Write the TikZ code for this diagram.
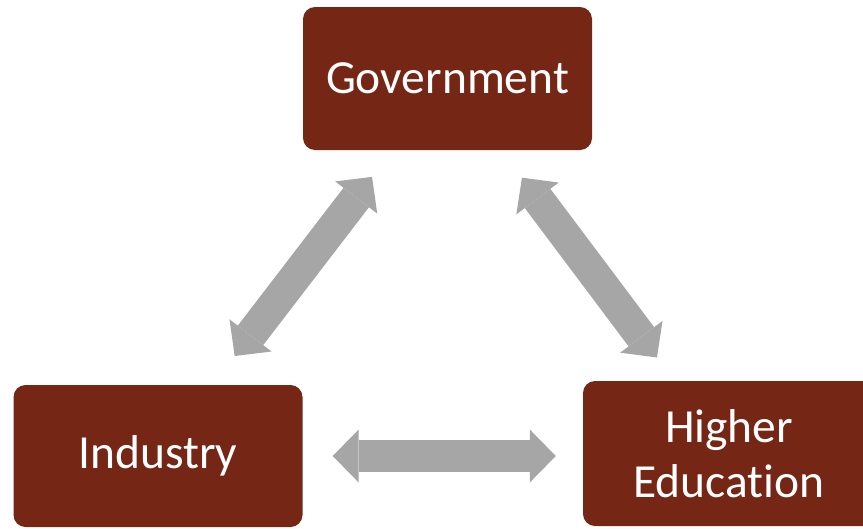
\documentclass[tikz,border=0pt]{standalone}
\usepackage{fontspec}
\setmainfont[Ligatures=NoCommon]{Carlito}
\usetikzlibrary{arrows.meta}
\definecolor{boxred}{RGB}{117,38,21}
\definecolor{arrowgray}{RGB}{166,166,166}
\tikzset{
  box/.style={fill=boxred, rounded corners=12pt, inner sep=0pt, text=white,
    font=\fontsize{47.5}{55}\selectfont, align=center},
  bigarrow/.style={draw=arrowgray, line width=32pt,
    {Triangle[length=26pt,width=53pt,line width=0pt]}-{Triangle[length=26pt,width=53pt,line width=0pt]}}
}
\begin{document}
\begin{tikzpicture}[x=1pt,y=-1pt]
\useasboundingbox (0,0) rectangle (863,528);
\clip (0,0) rectangle (863,528);
\node[box, minimum width=289pt, minimum height=143pt] (gov) at (447.5,78.5) {Government};
\node[box, minimum width=289pt, minimum height=142pt] (ind) at (158,456) {Industry};
\node[box, minimum width=292pt, minimum height=145pt] (he) at (729,453.5) {Higher\\Education};
\draw[bigarrow, shorten <=126pt, shorten >=124pt] (ind.center) -- (gov.center);
\draw[bigarrow, shorten <=124pt, shorten >=120pt] (gov.center) -- (he.center);
\draw[bigarrow] ([xshift=30pt]ind.east) -- ([xshift=-27pt]ind.east -| he.west);
\end{tikzpicture}
\end{document}
